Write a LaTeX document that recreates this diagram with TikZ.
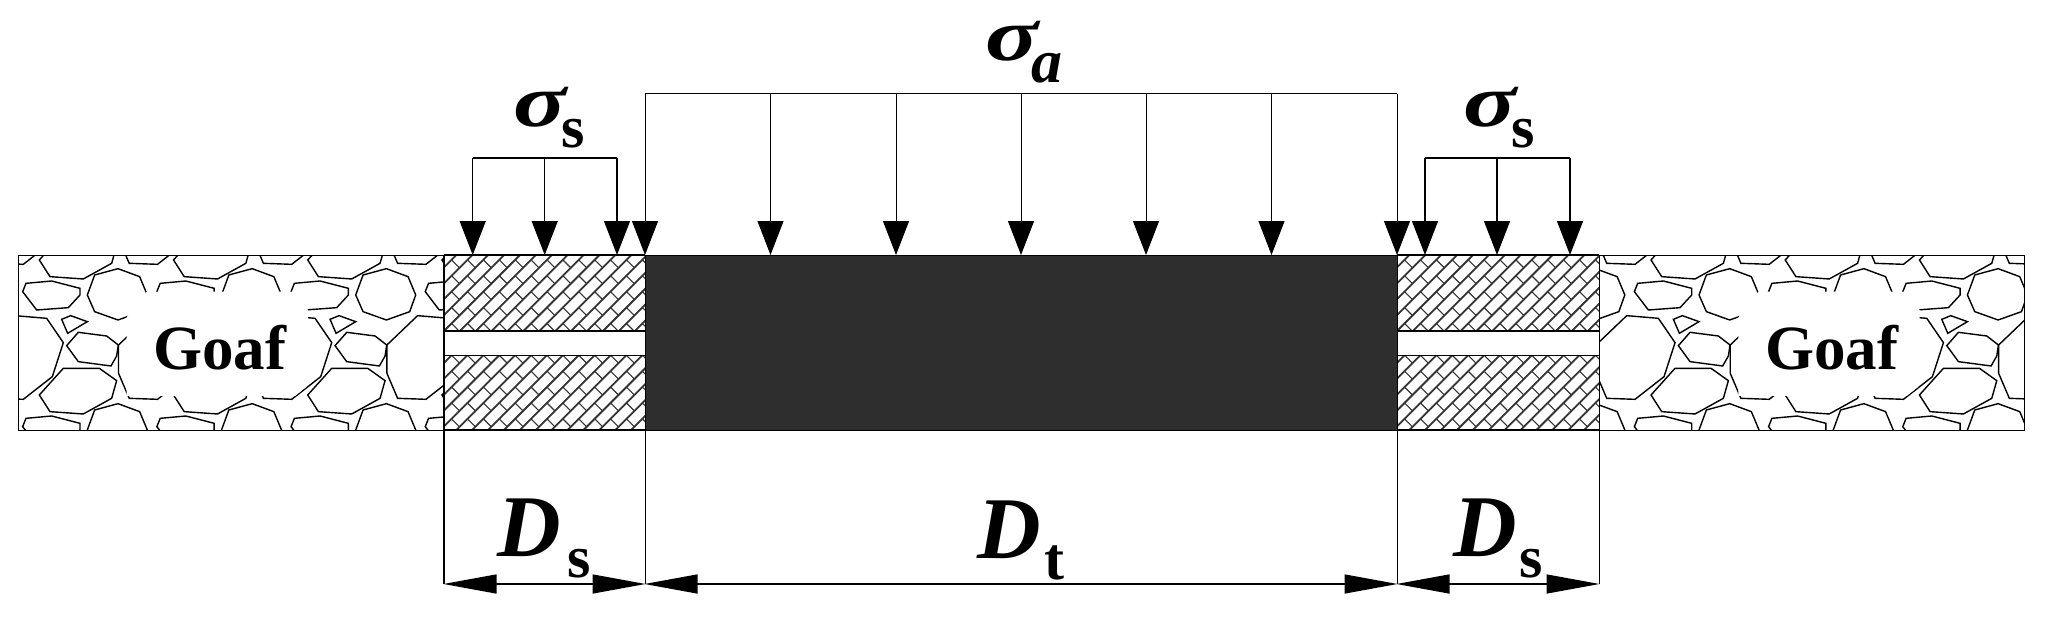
\documentclass[tikz,border=0pt]{standalone}
\usepackage{fontspec}
\setmainfont{Liberation Serif}
\usetikzlibrary{arrows.meta}
\definecolor{darkfill}{HTML}{2E2E2E}
\definecolor{hatchcol}{HTML}{333333}
\tikzset{
  box/.style={draw=black,line width=1.2pt},
  rock/.style={draw=black,line width=1.4pt,line join=miter},
  brickline/.style={draw=hatchcol,line width=1.8pt},
  brickcross/.style={draw=hatchcol,line width=1.1pt},
  load/.style={draw=black,line width=1.3pt,-{Triangle[length=34pt,width=26pt]}},
  dimline/.style={draw=black,line width=1.3pt,{Triangle[length=53pt,width=19pt]}-{Triangle[length=53pt,width=19pt]},shorten <=-0.5pt,shorten >=-0.5pt},
  wire/.style={draw=black,line width=1.3pt},
  lab/.style={inner sep=0pt,anchor=base west,text=black},
}
\newcommand{\bigbi}{\fontsize{88}{90}\selectfont\bfseries\itshape}
\newcommand{\subbf}{\fontsize{60}{62}\selectfont\bfseries}
\newcommand{\subbi}{\fontsize{62}{64}\selectfont\bfseries\itshape}
\newcommand{\sigglyph}{\scalebox{1.12}[0.85]{\bigbi σ}}
\newcommand{\rocktile}{%
  \draw[rock] (284,135)--(354,116)--(419,140)--(442,195)--(424,245)--(354,270)--(284,245)--(262,195)--cycle;
  \draw[rock] (68,185)--(78,160)--(155,153)--(240,175)--(240,195)--(205,233)--(110,240)--cycle;
  \draw[rock] (185,268)--(212,257)--(262,275)--(203,310)--cycle;
  \draw[rock] (200,347)--(235,307)--(320,318)--(355,345)--(350,378)--(333,408)--(235,395)--cycle;
  \draw[rock] (-47,345)--(45,257)--(140,265)--(190,338)--(157,440)--(70,508)--(-15,505)--(-47,430)--cycle;
  \draw[rock] (118,495)--(190,415)--(298,415)--(350,452)--(335,505)--(250,552)--(150,545)--cycle;
}
\newcommand{\goafpanel}[3]{%
  \begin{scope}
    \clip (#2,255) rectangle (#3,430);
    \foreach \i in {-1,0,1,2,3}{
      \foreach \j in {-1,0,1}{
        \begin{scope}[xshift={#1pt+\i*134.2pt},yshift={-230pt-\j*135pt},x=0.3333pt,y=-0.3333pt]
          \rocktile
        \end{scope}
      }
    }
  \end{scope}
  \begin{scope}[xshift=#1pt,yshift=-230pt,x=0.3333pt,y=-0.3333pt]
    \fill[white] (380,262)--(440,185)--(882,185)--(924,240)--(920,470)--(885,498)--(380,498)--cycle;
  \end{scope}
}
\newcommand{\brickband}[4]{%
  \begin{scope}
    \clip (#1,#3) rectangle (#2,#4);
    \foreach \k in {0,...,42}{
      \pgfmathsetmacro{\cA}{775+(\k-14)*15.9+#1-444}
      \pgfmathsetmacro{\cB}{\cA+15.9}
      \draw[brickline] ({\cA-600},600) -- ++(800,-800);
      \pgfmathsetmacro{\off}{mod(\k,2)*15.9}
      \foreach \n in {-8,...,8}{
        \pgfmathsetmacro{\dd}{191.7+#1-444+\off+\n*31.8}
        \draw[brickcross] ({(\cA+\dd)/2},{(\cA-\dd)/2}) -- ({(\cB+\dd)/2},{(\cB-\dd)/2});
      }
    }
  \end{scope}
}
\begin{document}
\begin{tikzpicture}[x=1pt,y=-1pt]
\useasboundingbox (0,0) rectangle (2046,623);
\fill[white] (0,0) rectangle (2046,623);
\goafpanel{0}{18}{444}
\goafpanel{1611.7}{1599}{2024}
\brickband{444}{645}{255}{331}
\brickband{444}{645}{355}{430}
\brickband{1397}{1599}{255}{331}
\brickband{1397}{1599}{355}{430}
\coordinate (LL) at (444,430);
\coordinate (LR) at (645,430);
\coordinate (RL) at (1397,430);
\coordinate (RR) at (1599,430);
\coordinate (dLL) at (444,584);
\coordinate (dLR) at (645,584);
\coordinate (dRL) at (1397,584);
\coordinate (dRR) at (1599,584);
\node[box,minimum width=426pt,minimum height=175pt,inner sep=0pt,anchor=north west] (goafL) at (18,255) {};
\node[box,minimum width=425pt,minimum height=175pt,inner sep=0pt,anchor=north west] (goafR) at (1599,255) {};
\node[fill=darkfill,draw=black,line width=0.8pt,minimum width=752pt,minimum height=175pt,inner sep=0pt,anchor=north west] (pillar) at (645,255) {};
\draw[wire,line width=1.2pt] (444,255) -- (645,255);
\draw[wire,line width=1.2pt] (1397,255) -- (1599,255);
\draw[wire,line width=1.2pt] (444,430) -- (645,430);
\draw[wire,line width=1.2pt] (1397,430) -- (1599,430);
\draw[wire,line width=1.8pt] (444,331) -- (645,331);
\draw[wire,line width=1.8pt] (1397,331) -- (1599,331);
\draw[wire,line width=0.8pt] (444,355) -- (645,355);
\draw[wire,line width=0.8pt] (1397,355) -- (1599,355);
\draw[wire,line width=1.8pt] (444,255) -- (444,430);
\draw[wire,line width=1.0pt] (1599,255) -- (1599,430);
\draw[wire,line width=1.6pt] (LL) -- (dLL);
\draw[wire,line width=1pt] (LR) -- (dLR);
\draw[wire,line width=1pt] (RL) -- (dRL);
\draw[wire,line width=1pt] (RR) -- (dRR);
\draw[dimline] (dLL) -- (dLR);
\draw[dimline] (dLR) -- (dRL);
\draw[dimline] (dRL) -- (dRR);
\foreach \n/\xx in {a1/645,a2/770.5,a3/896,a4/1021,a5/1146,a6/1271.5,a7/1397}{
  \coordinate (\n t) at (\xx,94);
  \coordinate (\n b) at (\xx,255);
  \draw[load,line width=1pt] (\n t) -- (\n b);
}
\draw[wire,line width=1pt] (a1t) -- (a7t);
\foreach \n/\xx in {l1/472.7,l2/544.7,l3/617}{
  \coordinate (\n t) at (\xx,158);
  \coordinate (\n b) at (\xx,255);
  \draw[load] (\n t) -- (\n b);
}
\draw[wire,line width=1.6pt] (l1t) -- (l3t);
\foreach \n/\xx in {r1/1425,r2/1497,r3/1570}{
  \coordinate (\n t) at (\xx,158);
  \coordinate (\n b) at (\xx,255);
  \draw[load] (\n t) -- (\n b);
}
\draw[wire,line width=1.6pt] (r1t) -- (r3t);
\node[lab] (goafTextL) at (153,369) {\fontsize{63}{65}\selectfont\bfseries Goaf};
\node[lab] (goafTextR) at (1765,369) {\fontsize{63}{65}\selectfont\bfseries Goaf};
\node[lab] (sigA) at (985,61) {\makebox[46pt][l]{\sigglyph}\raisebox{-22pt}{\subbi a}};
\node[lab] (sigS1) at (513,127) {\makebox[48pt][l]{\sigglyph}\raisebox{-21pt}{\subbf s}};
\node[lab] (sigS2) at (1463,127) {\makebox[48pt][l]{\sigglyph}\raisebox{-21pt}{\subbf s}};
\node[lab] (dS1) at (497,556) {\makebox[70pt][l]{\bigbi D}\raisebox{-21pt}{\subbf s}};
\node[lab] (dT) at (977,558) {\makebox[67pt][l]{\bigbi D}\raisebox{-21pt}{\subbf t}};
\node[lab] (dS2) at (1453,556) {\makebox[66pt][l]{\bigbi D}\raisebox{-21pt}{\subbf s}};
\end{tikzpicture}
\end{document}
